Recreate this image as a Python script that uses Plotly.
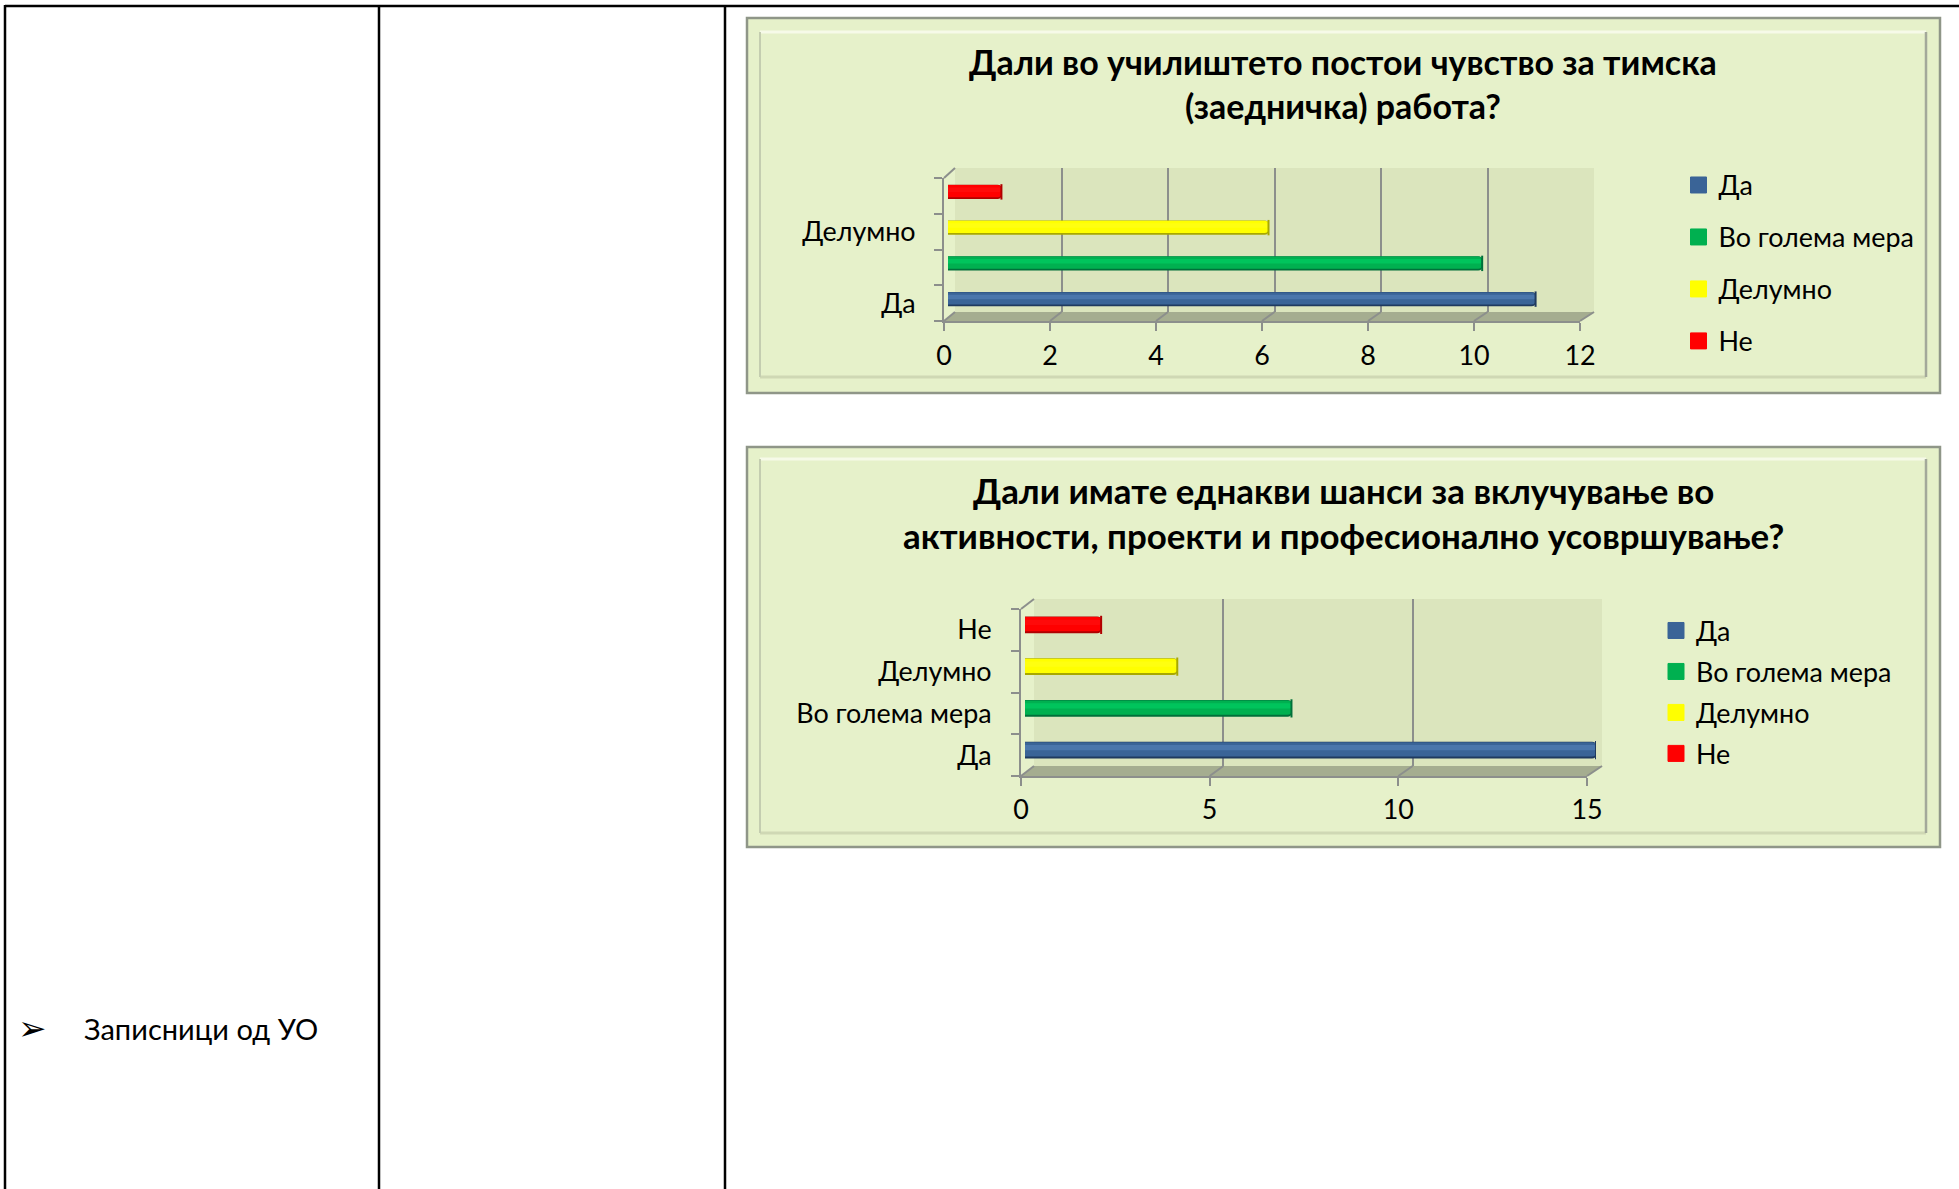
import plotly.graph_objects as go

W, H = 1959, 1189

# ---- data ----
categories = ["Да", "Во голема мера", "Делумно", "Не"]
chart1_values = [11, 10, 6, 1]
chart2_values = [15, 7, 4, 2]
chart1_title = "Дали во училиштето постои чувство за тимска<br>(заедничка) работа?"
chart2_title = "Дали имате еднакви шанси за вклучување во<br>активности, проекти и професионално усовршување?"
chart1_xticks = [0, 2, 4, 6, 8, 10, 12]
chart2_xticks = [0, 5, 10, 15]
chart1_ylabels = ["Да", "", "Делумно", ""]
chart2_ylabels = ["Да", "Во голема мера", "Делумно", "Не"]
side_text = "Записници од УО"
bullet = "➢"

base_colors = ["#3A6497", "#00B050", "#FFFF00", "#FF0000"]
dark_colors = ["#1F3A5F", "#00703A", "#A8A800", "#B00000"]
light_colors = ["#4A76AC", "#00C45C", "#FFFF10", "#FF0A0A"]

FONT = "Lato, sans-serif"
FS = 26.9
AXC = "#8C8F8C"
BG = "#E6F1CA"
WALL = "#DBE5BD"
FLOOR = "#A5AD90"

px = lambda x: x / W
py = lambda y: 1 - y / H

fig = go.Figure()
shapes, annotations = [], []


def rect(x0, y0, x1, y1, fill=None, line=None, lw=0):
    shapes.append(dict(type="rect", xref="paper", yref="paper", layer="below",
                       x0=px(x0), x1=px(x1), y0=py(y0), y1=py(y1),
                       fillcolor=fill or "rgba(0,0,0,0)",
                       line=dict(color=line or "rgba(0,0,0,0)", width=lw)))


def seg(x0, y0, x1, y1, color, lw=2):
    shapes.append(dict(type="line", xref="paper", yref="paper", layer="below",
                       x0=px(x0), x1=px(x1), y0=py(y0), y1=py(y1),
                       line=dict(color=color, width=lw)))


def poly(points, fill):
    path = "M" + " L".join(f"{px(x)},{py(y)}" for x, y in points) + " Z"
    shapes.append(dict(type="path", xref="paper", yref="paper", layer="below",
                       path=path, fillcolor=fill, line=dict(width=0)))


# table rules
seg(5, 6, W, 6, "#000000", 2.5)
seg(5, 5, 5, H, "#000000", 2.5)
seg(379, 5, 379, H, "#000000", 2.5)
seg(725, 5, 725, H, "#000000", 2.5)

annotations.append(dict(text=bullet, xref="paper", yref="paper", x=px(32), y=py(1028),
                        xanchor="center", yanchor="middle",
                        showarrow=False, font=dict(family="DejaVu Sans", size=34, color="#000")))
annotations.append(dict(text=side_text, xref="paper", yref="paper", x=px(82), y=py(1028.5),
                        xanchor="left", yanchor="middle", showarrow=False,
                        font=dict(family=FONT, size=29, color="#000")))

layout = {}


def chart(n, cfg):
    a = 3 * (n - 1)
    ids = [a + 2, a + 3, a + 1]  # front, bars, wall (wall lowest so it draws first)
    fr, ba, wa = cfg["front"], cfg["bars"], cfg["wall"]
    vals, xticks, xmax = cfg["values"], cfg["xticks"], cfg["xticks"][-1]

    # frame and bevel
    L, T, R, B = cfg["frame"]
    rect(L, T, R, B, BG, "#8F9688", 2.5)
    iL, iT, iR, iB = cfg["inner"]
    seg(iL, iT, iR, iT, "#F6FAE8", 3)
    seg(iL, iB, iR, iB, "#CFD8B4", 3)
    seg(iL, iT, iL, iB, "#C4CDB0", 2)
    seg(iR, iT, iR, iB, "#A3A99A", 2.5)

    # wall and floor
    rect(wa[0], wa[1], wa[2], wa[3], WALL)
    poly([(fr[0], fr[3]), (wa[0], wa[3]), (wa[2], wa[3]), (fr[2], fr[3])], FLOOR)
    seg(fr[0], fr[1], wa[0], wa[1], AXC, 2)
    for t in xticks:
        f = t / xmax
        seg(fr[0] + f * (fr[2] - fr[0]), fr[3], wa[0] + f * (wa[2] - wa[0]), wa[3], AXC, 2)

    def ax(dom_box, **kw):
        return dict(domain=[px(dom_box[0]), px(dom_box[2])], **kw)

    def ay(dom_box, **kw):
        return dict(domain=[py(dom_box[3]), py(dom_box[1])], **kw)

    name = lambda p, i: f"{p}axis{'' if i == 1 else i}"
    ref = lambda p, i: f"{p}{'' if i == 1 else i}"

    # wall axes: gridlines
    layout[name("x", ids[2])] = ax(wa, range=[0, xmax], tickvals=xticks, showticklabels=False, ticks="",
                                   showgrid=True, gridcolor=AXC, gridwidth=2, zeroline=False,
                                   showline=False, anchor=ref("y", ids[2]))
    layout[name("y", ids[2])] = ay(wa, range=[0, 1], visible=False, anchor=ref("x", ids[2]))
    # front axes: ticks and labels
    layout[name("x", ids[0])] = ax(fr, range=[0, xmax], tickvals=xticks, ticks="outside", ticklen=8,
                                   tickwidth=2, tickcolor=AXC, showline=True, linecolor=AXC, linewidth=2,
                                   showgrid=False, zeroline=False, anchor=ref("y", ids[0]),
                                   ticklabelstandoff=cfg["xstand"],
                                   tickfont=dict(family=FONT, size=FS, color="#000"))
    n_c = len(categories)
    layout[name("y", ids[0])] = ay(fr, range=[0, n_c], tickvals=[i + 0.5 for i in range(n_c)],
                                   ticktext=cfg["ylabels"], ticks="outside", ticklen=0,
                                   showline=True, linecolor=AXC, linewidth=2, showgrid=False, zeroline=False,
                                   minor=dict(tickvals=list(range(n_c + 1)), ticks="outside", ticklen=8,
                                              tickwidth=2, tickcolor=AXC, showgrid=False),
                                   anchor=ref("x", ids[0]), ticklabelstandoff=cfg["ystand"],
                                   tickfont=dict(family=FONT, size=FS, color="#000"))
    # bar axes
    layout[name("x", ids[1])] = ax(ba, range=[0, xmax], visible=False, anchor=ref("y", ids[1]))
    layout[name("y", ids[1])] = ay(ba, type="category", categoryorder="array", categoryarray=categories,
                                   range=[-0.5, n_c - 0.5], visible=False, anchor=ref("x", ids[1]))

    # invisible traces to keep front and wall subplots alive
    for i in (ids[2], ids[0]):
        fig.add_trace(go.Scatter(x=[None], y=[None], xaxis=ref("x", i), yaxis=ref("y", i),
                                 showlegend=False, hoverinfo="skip", mode="markers"))

    # cylinder layers: outer dark, body, highlight
    xb, yb = ref("x", ids[1]), ref("y", ids[1])
    for v, c, col, dk, lt in zip(vals, categories, base_colors, dark_colors, light_colors):
        for width, offset, color in [(0.40, -0.20, dk), (0.34, -0.15, col), (0.12, 0.0, lt)]:
            fig.add_trace(go.Bar(x=[v], y=[c], orientation="h", width=width, offset=offset,
                                 marker=dict(color=color, line=dict(width=0), cornerradius=4),
                                 xaxis=xb, yaxis=yb, showlegend=False, hoverinfo="skip"))
        fig.add_trace(go.Scatter(x=[v], y=[c], mode="markers", xaxis=xb, yaxis=yb, showlegend=False,
                                 hoverinfo="skip",
                                 marker=dict(symbol="line-ns", size=cfg["cap"], line=dict(color=dk, width=2))))

    # legend swatches
    lg = "legend" if n == 1 else f"legend{n}"
    for c, col in zip(categories, base_colors):
        fig.add_trace(go.Scatter(x=[None], y=[None], mode="markers", name=c, legend=lg, legendgroup=f"{n}{c}",
                                 marker=dict(symbol="square", size=16, color=col, line=dict(color=col, width=1)),
                                 xaxis=xb, yaxis=yb, hoverinfo="skip"))
    layout[lg] = dict(x=px(cfg["legend"][0]), y=py(cfg["legend"][1]), xanchor="left", yanchor="top",
                      bgcolor="rgba(0,0,0,0)", borderwidth=0, tracegroupgap=cfg["legend"][2],
                      itemclick=False, itemdoubleclick=False,
                      font=dict(family=FONT, size=FS, color="#000"))

    annotations.append(dict(text=cfg["title"], xref="paper", yref="paper", x=px(cfg["title_xy"][0]),
                            y=py(cfg["title_xy"][1]), showarrow=False, align="center",
                            xanchor="center", yanchor="middle",
                            font=dict(family=FONT, size=cfg["title_size"], color="#000", weight="bold")))


chart(1, dict(frame=(747, 18, 1940, 393), inner=(760, 32, 1926, 377),
              front=(944, 178, 1580, 321), wall=(955, 168, 1594, 312), bars=(948, 174, 1589, 317),
              values=chart1_values, xticks=chart1_xticks, ylabels=chart1_ylabels,
              xstand=2, ystand=21, cap=11, legend=(1678.5, 161, 14),
              title=chart1_title, title_xy=(1343, 83.5), title_size=34))
chart(2, dict(frame=(747, 447, 1940, 847), inner=(760, 459, 1926, 833),
              front=(1021, 609, 1587, 776), wall=(1034, 599, 1602, 766), bars=(1025, 604, 1596, 771),
              values=chart2_values, xticks=chart2_xticks, ylabels=chart2_ylabels,
              xstand=1, ystand=22, cap=13, legend=(1656, 606.5, 3),
              title=chart2_title, title_xy=(1343, 512.5), title_size=34.9))

fig.update_layout(width=W, height=H, margin=dict(l=0, r=0, t=0, b=0, autoexpand=False), autosize=False,
                  paper_bgcolor="#FFFFFF", plot_bgcolor="rgba(0,0,0,0)", barmode="overlay",
                  shapes=shapes, annotations=annotations, **layout)
fig.write_html("out.html", config={"displayModeBar": False},
               post_script="document.body.style.margin='0';document.body.style.overflow='hidden';")
